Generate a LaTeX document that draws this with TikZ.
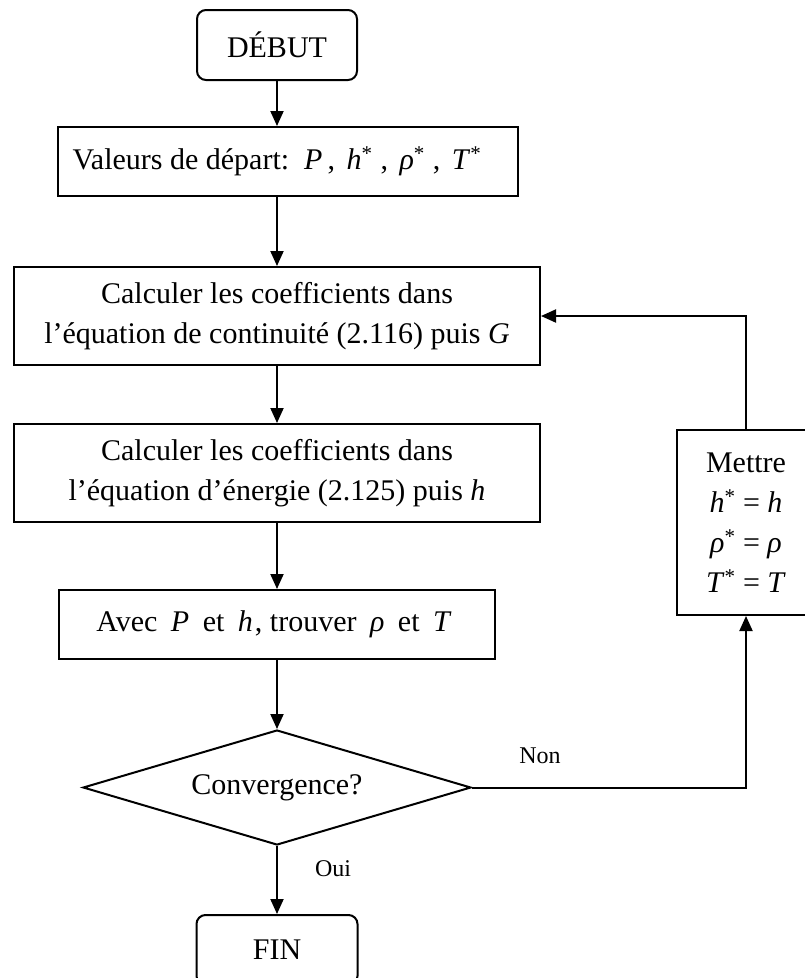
\documentclass[tikz,border=0pt]{standalone}
\usepackage{fontspec}
\setmainfont{Liberation Serif}
\usetikzlibrary{shapes.geometric,arrows.meta}

% italic variable, padded as an inline equation, and starred variable
\newcommand\mv[1]{\textit{#1}}
\newcommand\pv[2][6pt]{\hspace{#1}\textit{#2}\hspace{#1}}
\newcommand\sv[1]{\textit{#1}\textsuperscript{*}}
\newcommand\psv[1]{\hspace{4pt}\sv{#1}\hspace{8pt}}

\begin{document}
\begin{tikzpicture}[x=1pt,y=-1pt,
  every node/.style={font=\fontsize{30}{40}\selectfont},
  box/.style={draw,line width=2pt,inner sep=0pt,align=center},
  term/.style={box,rounded corners=9pt},
  flow/.style={line width=2pt,-{Triangle[length=15pt,width=13pt]}},
  lbl/.style={font=\fontsize{24}{28}\selectfont,inner sep=0pt}]
\useasboundingbox (0,0) rectangle (805,978);
\clip (0,0) rectangle (805,978);

% main column
\node[term,minimum width=160pt,minimum height=70pt] (debut) at (277,45) {DÉBUT};
\node[box,minimum width=460pt,minimum height=69pt] (val) at (288,161.5)
  {Valeurs de départ: \pv[5pt]{P}, \psv{h}, \psv{ρ}, \hspace{4pt}\sv{T}\hspace*{22pt}};
\node[box,minimum width=526pt,minimum height=98pt] (c1) at (277,316)
  {Calculer les coefficients dans\\l’équation de continuité (2.116) puis \mv{G}};
\node[box,minimum width=526pt,minimum height=98pt] (c2) at (277,473)
  {Calculer les coefficients dans\\l’équation d’énergie (2.125) puis \mv{h}};
\node[box,minimum width=436pt,minimum height=69pt] (avec) at (277,624.5)
  {Avec \pv{P} et \hspace{6pt}\mv{h}\hspace{2pt}, trouver \pv{ρ} et \pv{T}};
\node[diamond,draw,line width=2pt,inner sep=0pt,aspect=3.37,
  minimum width=388pt,minimum height=115pt] (conv) at (277,787.5) {Convergence?};
\node[term,minimum width=161pt,minimum height=70pt] (fin) at (277,950) {FIN};

% update box of the loop
\node[box,minimum width=138pt,minimum height=185pt] (met) at (746,522.5)
  {Mettre\\\sv{h} = \mv{h}\\\sv{ρ} = \mv{ρ}\\\sv{T} = \mv{T}};

% connectors
\draw[flow] (debut) -- (debut |- val.north);
\draw[flow] (debut |- val.south) -- (c1);
\draw[flow] (c1) -- (c2);
\draw[flow] (c2) -- (avec);
\draw[flow] (avec) -- (conv);
\draw[flow] (conv) -- (fin);
\draw[flow] (conv.east) -| (met.south);
\draw[flow] (met.north) |- (c1.east);

% branch labels
\node[lbl] (oui) at (333,869) {Oui};
\node[lbl] (non) at (540,756) {Non};
\end{tikzpicture}
\end{document}
